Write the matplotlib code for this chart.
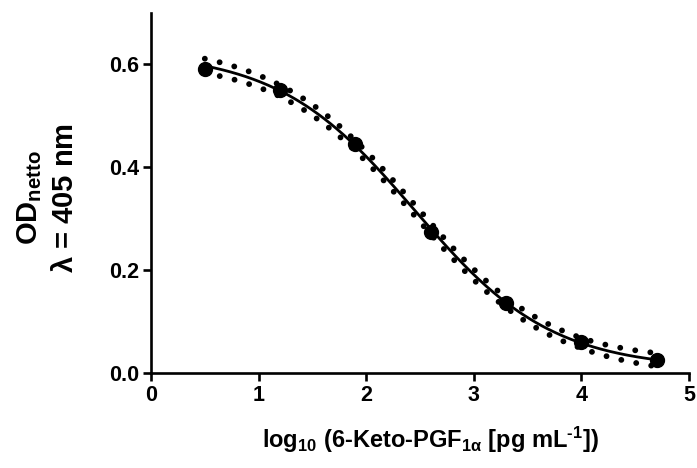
import numpy as np
import matplotlib
matplotlib.use("Agg")
import matplotlib.pyplot as plt

plt.rcParams['font.family'] = ['Liberation Sans', 'DejaVu Sans']
plt.rcParams['font.weight'] = 'bold'
plt.rcParams['mathtext.fontset'] = 'custom'
plt.rcParams['mathtext.rm'] = 'Liberation Sans:bold'
plt.rcParams['mathtext.bf'] = 'Liberation Sans:bold'
plt.rcParams['mathtext.it'] = 'Liberation Sans'

# data points
log_conc = [0.5, 1.2, 1.9, 2.6, 3.3, 4.0, 4.7]
od_netto = [0.592, 0.551, 0.446, 0.274, 0.136, 0.061, 0.026]
# 4PL fit parameters (top, bottom, logEC50, hill)
fit_top = 0.625
fit_bottom = 0.008
fit_logec50 = 2.45
fit_hill = 0.68
# confidence band half-width at data x positions
band_half = [0.014, 0.011, 0.010, 0.011, 0.010, 0.010, 0.013]

x_ticks = [0, 1, 2, 3, 4, 5]
y_ticks = [0.0, 0.2, 0.4, 0.6]

fig = plt.figure(figsize=(6.97, 4.68), dpi=100)
ax = fig.add_axes([151/697, 1-373/468, (689-151)/697, (373-13)/468])

xf = np.linspace(min(log_conc), max(log_conc), 300)
yf = fit_bottom + (fit_top - fit_bottom) / (1 + 10 ** ((xf - fit_logec50) * fit_hill))
bw = np.interp(xf, log_conc, band_half)

dot_style = dict(color='black', lw=4.2, linestyle=(0, (0.01, 2.6)),
                 dash_capstyle='round', zorder=2)
ax.plot(xf, yf + bw, **dot_style)
ax.plot(xf, yf - bw, **dot_style)
ax.plot(xf, yf, color='black', lw=2.0, zorder=3)
ax.plot(log_conc, od_netto, 'o', color='black', ms=10, zorder=4, clip_on=False)

ax.set_xlim(0, 5)
ax.set_ylim(0, 0.7)
ax.set_xticks(x_ticks)
ax.set_yticks(y_ticks)
ax.set_xticklabels([str(t) for t in x_ticks])
ax.set_yticklabels([f"{t:.1f}" for t in y_ticks])
for s in ['top', 'right']:
    ax.spines[s].set_visible(False)
for s in ['left', 'bottom']:
    ax.spines[s].set_linewidth(1.9)
ax.tick_params(width=1.9, length=6, labelsize=15.5, direction='out', pad=2.5)
for lab in ax.get_xticklabels() + ax.get_yticklabels():
    lab.set_fontweight('bold')

ax.set_xlabel(r'log$_{\mathrm{10}}$ (6-Keto-PGF$_{\mathrm{1}\alpha}$ [pg mL$^{\text{-1}}$])',
              fontsize=17, fontweight='bold')
ax.xaxis.set_label_coords((430 - 151) / 538, (373 - 425) / 360)
ax.set_ylabel('OD$_{\\mathrm{netto}}$\n$\\lambda$ = 405 nm', fontsize=21,
              fontweight='bold', linespacing=1.3)
ax.yaxis.set_label_coords((79 - 151) / 538, (373 - 198) / 360)

fig.savefig('out.png', dpi=100)
